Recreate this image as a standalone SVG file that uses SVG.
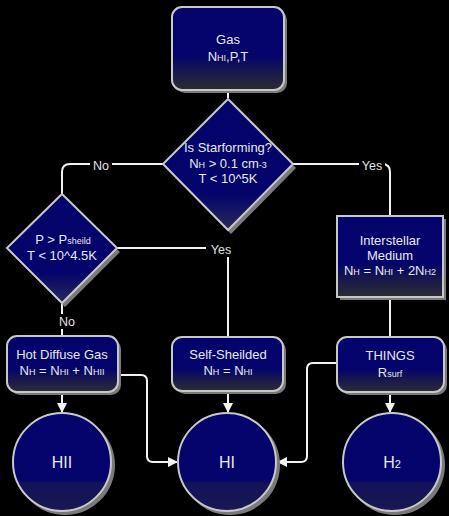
<svg xmlns="http://www.w3.org/2000/svg" width="449" height="516" viewBox="0 0 449 516">
<style>
.bg{fill:#000}
.shadow{fill:#7a7a7a}
.box{fill:url(#boxg);stroke:#c8c8c8;stroke-width:2}
.dia{fill:url(#diag);stroke:#c8c8c8;stroke-width:2}
.circ{fill:url(#circg);stroke:#c8c8c8;stroke-width:2}
.t{font-family:"Liberation Sans",Arial,sans-serif;font-size:13px;fill:#e8e8e8;text-anchor:middle}
.big{font-size:16px}
.s{font-size:9px}
.conn{fill:none;stroke:#f2f2f2;stroke-width:2}
.lbl{font-family:"Liberation Sans",Arial,sans-serif;font-size:12.5px;fill:#e0e0e0;text-anchor:middle}
</style>
<defs>
<linearGradient id="boxg" x1="0" y1="0" x2="0" y2="1">
<stop offset="0" stop-color="#03036b"/>
<stop offset="0.58" stop-color="#03036b"/>
<stop offset="0.82" stop-color="#1c1c48"/>
<stop offset="1" stop-color="#2c2c30"/>
</linearGradient>
<linearGradient id="diag" x1="0" y1="0" x2="0" y2="1">
<stop offset="0" stop-color="#03036b"/>
<stop offset="0.72" stop-color="#03036b"/>
<stop offset="1" stop-color="#2a2a58"/>
</linearGradient>
<linearGradient id="circg" x1="0" y1="0" x2="0" y2="1">
<stop offset="0" stop-color="#03036b"/>
<stop offset="0.68" stop-color="#03036b"/>
<stop offset="0.72" stop-color="#131358"/>
<stop offset="1" stop-color="#181852"/>
</linearGradient>
<marker id="arr" markerUnits="userSpaceOnUse" markerWidth="12" markerHeight="12" refX="9" refY="6" orient="auto">
<path d="M0,1 L10,6 L0,11 Z" fill="#f2f2f2"/>
</marker>
</defs>
<rect class="bg" x="0" y="0" width="449" height="516"/>

<g id="connectors">
<path class="conn" d="M228,90 V98"/>
<path class="conn" d="M163,164 H70 Q62,164 62,172 V194"/>
<path class="conn" d="M293,164 H382 Q390,164 390,172 V216"/>
<path class="conn" d="M117,248 H228 V337"/>
<path class="conn" d="M62,303 V336"/>
<path class="conn" d="M390,297 V337"/>
<path class="conn" d="M62,392 V412" marker-end="url(#arr)"/>
<path class="conn" d="M228,391 V412" marker-end="url(#arr)"/>
<path class="conn" d="M390,392 V412" marker-end="url(#arr)"/>
<path class="conn" d="M118,375 H141 Q147,375 147,381 V456 Q147,462 153,462 H177" marker-end="url(#arr)"/>
<path class="conn" d="M337,363 H313 Q307,363 307,369 V456 Q307,462 301,462 H278" marker-end="url(#arr)"/>
<rect x="90" y="157" width="22" height="15" fill="#000"/>
<text class="lbl" x="101" y="170">No</text>
<rect x="359" y="157" width="26" height="15" fill="#000"/>
<text class="lbl" x="372" y="170">Yes</text>
<rect x="206" y="241" width="30" height="16" fill="#000"/>
<text class="lbl" x="221" y="254">Yes</text>
<rect x="55" y="314" width="24" height="15" fill="#000"/>
<text class="lbl" x="67" y="326">No</text>
</g>

<g id="gas">
<rect class="shadow" x="175" y="10" width="112" height="83" rx="10"/>
<rect class="box" x="172" y="7" width="112" height="83" rx="10"/>
<text class="t" x="228" y="44">Gas</text>
<text class="t" x="228" y="61">N<tspan class="s">HI</tspan>,P,T</text>
</g>

<g id="starforming">
<polygon class="shadow" points="231,102 296,168 231,234 166,168"/>
<polygon class="dia" points="228,99 293,164 228,230 163,164"/>
<text class="t" x="228" y="152">Is Starforming?</text>
<text class="t" x="228" y="168">N<tspan class="s">H</tspan> &gt; 0.1 cm<tspan class="s">-3</tspan></text>
<text class="t" x="228" y="183">T &lt; 10^5K</text>
</g>

<g id="pshield">
<polygon class="shadow" points="65,197 120,252 65,307 10,252"/>
<polygon class="dia" points="62,194 117,248 62,303 7,248"/>
<text class="t" x="63" y="244">P &gt; P<tspan class="s">sheild</tspan></text>
<text class="t" x="62" y="260">T &lt; 10^4.5K</text>
</g>

<g id="ism">
<rect class="shadow" x="340" y="219" width="106" height="81"/>
<rect class="box" x="337" y="216" width="106" height="81"/>
<text class="t" x="390" y="245">Interstellar</text>
<text class="t" x="390" y="260">Medium</text>
<text class="t" x="390" y="275">N<tspan class="s">H</tspan> = N<tspan class="s">HI</tspan> + 2N<tspan class="s">H2</tspan></text>
</g>

<g id="hotdiffuse">
<rect class="shadow" x="10" y="339" width="111" height="56" rx="10"/>
<rect class="box" x="7" y="336" width="111" height="56" rx="10"/>
<text class="t" x="62" y="359">Hot Diffuse Gas</text>
<text class="t" x="62" y="375">N<tspan class="s">H</tspan> = N<tspan class="s">HI</tspan> + N<tspan class="s">HII</tspan></text>
</g>

<g id="selfshielded">
<rect class="shadow" x="175" y="340" width="111" height="54" rx="10"/>
<rect class="box" x="172" y="337" width="111" height="54" rx="10"/>
<text class="t" x="228" y="359">Self-Sheilded</text>
<text class="t" x="228" y="375">N<tspan class="s">H</tspan> = N<tspan class="s">HI</tspan></text>
</g>

<g id="things">
<rect class="shadow" x="340" y="340" width="107" height="55" rx="10"/>
<rect class="box" x="337" y="337" width="107" height="55" rx="10"/>
<text class="t" x="390" y="360">THINGS</text>
<text class="t" x="390" y="377">R<tspan class="s">surf</tspan></text>
</g>

<g id="hii">
<circle class="shadow" cx="65" cy="465" r="50"/>
<circle class="circ" cx="62" cy="462" r="49"/>
<text class="t big" x="62" y="468">HII</text>
</g>

<g id="hi">
<circle class="shadow" cx="230" cy="465" r="50"/>
<circle class="circ" cx="227" cy="462" r="49"/>
<text class="t big" x="227" y="468">HI</text>
</g>

<g id="h2">
<circle class="shadow" cx="395" cy="465" r="50"/>
<circle class="circ" cx="392" cy="462" r="49"/>
<text class="t big" x="392" y="468">H<tspan font-size="11px">2</tspan></text>
</g>
</svg>
